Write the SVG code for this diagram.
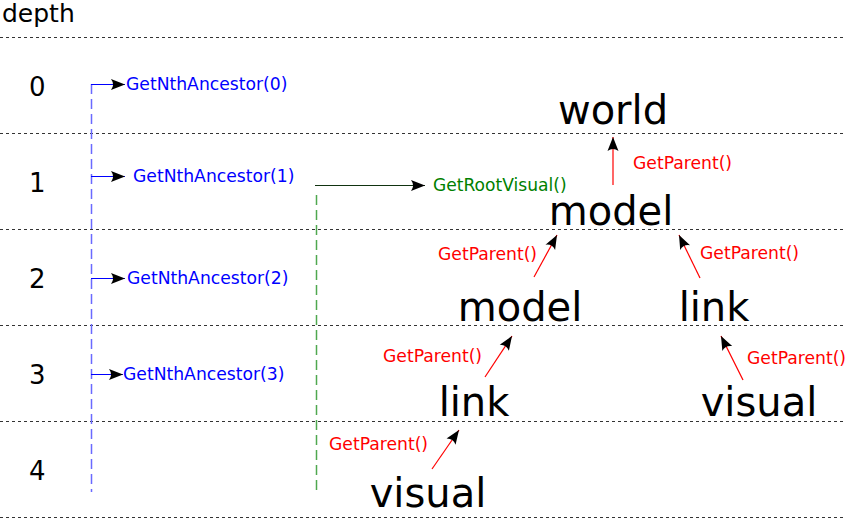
<svg xmlns="http://www.w3.org/2000/svg" width="845" height="519" viewBox="0 0 845 519">
<style>
text{font-family:"DejaVu Sans",sans-serif}
.sep{stroke:#333;stroke-width:1;stroke-dasharray:3 3}
.num{font-size:26px;fill:#000}
.node{font-size:40px;fill:#000;text-anchor:middle}
.blue{font-size:17.2px;fill:#0000ff}
.red{font-size:17.2px;fill:#ff0000}
.green{font-size:17.1px;fill:#008000}
.ra{stroke:#ff0000;stroke-width:1.2;fill:none;marker-end:url(#ah)}
.ba{stroke:#0000ff;stroke-width:1;fill:none;marker-end:url(#ah)}
</style>
<defs>
<marker id="ah" markerUnits="userSpaceOnUse" viewBox="-16 -7 18 14" refX="0" refY="0" markerWidth="18" markerHeight="14" orient="auto">
<path d="M0,0 L-14,-5.5 Q-10,0 -14,5.5 Z" fill="#000"/>
</marker>
</defs>
<rect width="845" height="519" fill="#fff"/>
<g id="grid">
<line class="sep" x1="0" y1="37.5" x2="845" y2="37.5"/>
<line class="sep" x1="0" y1="133.5" x2="845" y2="133.5"/>
<line class="sep" x1="0" y1="229.5" x2="845" y2="229.5"/>
<line class="sep" x1="0" y1="325.5" x2="845" y2="325.5"/>
<line class="sep" x1="0" y1="421.5" x2="845" y2="421.5"/>
<line class="sep" x1="0" y1="517.5" x2="845" y2="517.5"/>
<text x="2" y="22" style="font-size:25px">depth</text>
<text class="num" x="29" y="96">0</text>
<text class="num" x="29" y="192">1</text>
<text class="num" x="29" y="288">2</text>
<text class="num" x="29" y="384">3</text>
<text class="num" x="29" y="480">4</text>
</g>
<g id="connectors">
<line x1="91.5" y1="84" x2="91.5" y2="492" stroke="#6a6aff" stroke-width="1.5" stroke-dasharray="10 5"/>
<line x1="316.5" y1="195" x2="316.5" y2="492" stroke="#4fa84f" stroke-width="1.5" stroke-dasharray="10 5"/>
<path class="ba" d="M91,84.5 H125"/>
<path class="ba" d="M91,176.5 H125"/>
<path class="ba" d="M91,278.5 H125"/>
<path class="ba" d="M91,374.5 H123"/>
<path d="M315,185.5 H425" stroke="#113311" stroke-width="1" fill="none" marker-end="url(#ah)"/>
<path class="ra" d="M613,185 L613,137"/>
<path class="ra" d="M534,277 L557,235"/>
<path class="ra" d="M700,278 L679,235"/>
<path class="ra" d="M485,377 L512,336"/>
<path class="ra" d="M743,380 L721,336"/>
<path class="ra" d="M432,469 L459,430"/>
</g>
<g id="labels">
<text class="blue" x="126" y="90">GetNthAncestor(0)</text>
<text class="blue" x="133" y="182">GetNthAncestor(1)</text>
<text class="blue" x="127" y="284">GetNthAncestor(2)</text>
<text class="blue" x="123" y="380">GetNthAncestor(3)</text>
<text class="green" x="433" y="191">GetRootVisual()</text>
<text class="red" x="633" y="169">GetParent()</text>
<text class="red" x="438" y="260">GetParent()</text>
<text class="red" x="700" y="259">GetParent()</text>
<text class="red" x="383" y="362">GetParent()</text>
<text class="red" x="747" y="364">GetParent()</text>
<text class="red" x="329" y="450">GetParent()</text>
</g>
<g id="node-world"><text class="node" x="613" y="124">world</text></g>
<g id="node-model1"><text class="node" x="611" y="225">model</text></g>
<g id="node-model2"><text class="node" x="520" y="321">model</text></g>
<g id="node-link2"><text class="node" x="714" y="321">link</text></g>
<g id="node-link3"><text class="node" x="474" y="416">link</text></g>
<g id="node-visual3"><text class="node" x="759" y="416">visual</text></g>
<g id="node-visual4"><text class="node" x="428" y="507">visual</text></g>
</svg>
